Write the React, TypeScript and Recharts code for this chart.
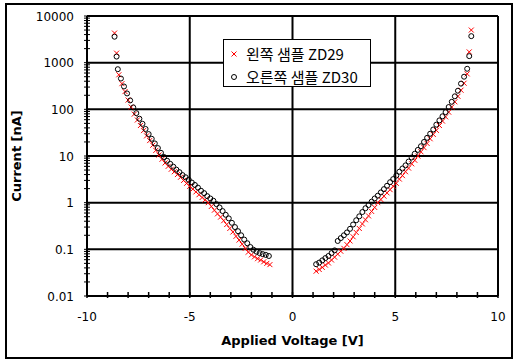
import React from "react";
import {
  ScatterChart,
  Scatter,
  XAxis,
  YAxis,
  ReferenceLine,
  Label,
} from "recharts";

// 왼쪽 샘플 ZD29 (red x)
const voltsLeft29 = [
  -8.66, -8.56, -8.45, -8.3, -8.15, -8.0, -7.85, -7.7, -7.55, -7.4, -7.25, -7.1,
  -6.95, -6.8, -6.65, -6.5, -6.35, -6.2, -6.05, -5.9, -5.75, -5.6, -5.45, -5.3,
  -5.15, -5.0, -4.85, -4.7, -4.55, -4.4, -4.25, -4.1, -3.95, -3.8, -3.65, -3.5,
  -3.35, -3.2, -3.05, -2.9, -2.75, -2.6, -2.45, -2.3, -2.15, -2.0, -1.85, -1.7,
  -1.55, -1.4, -1.25, -1.1,
];
const currLeft29 = [
  4300, 1600, 550, 355, 240, 158, 112, 79, 59, 45, 35, 27,
  21.4, 17, 13.2, 10.5, 8.5, 7.1, 6.0, 5.2, 4.6, 4.0, 3.5, 3.0,
  2.6, 2.24, 1.95, 1.7, 1.48, 1.29, 1.15, 1.0, 0.83, 0.69, 0.575, 0.49,
  0.41, 0.34, 0.28, 0.235, 0.19, 0.158, 0.129, 0.105, 0.087, 0.076, 0.069, 0.063,
  0.059, 0.054, 0.05, 0.047,
];

// 오른쪽 샘플 ZD30 (open circles)
const voltsLeft30 = [
  -8.66, -8.56, -8.5, -8.35, -8.2, -8.05, -7.9, -7.75, -7.6, -7.45, -7.3, -7.15,
  -7.0, -6.85, -6.7, -6.55, -6.4, -6.25, -6.1, -5.95, -5.8, -5.65, -5.5, -5.35,
  -5.2, -5.05, -4.9, -4.75, -4.6, -4.45, -4.3, -4.15, -4.0, -3.85, -3.7, -3.55,
  -3.4, -3.25, -3.1, -2.95, -2.8, -2.65, -2.5, -2.35, -2.2, -2.05, -1.9, -1.75,
  -1.6, -1.45, -1.3, -1.15,
];
const currLeft30 = [
  3600, 1350, 724, 457, 309, 219, 155, 110, 83, 63, 49, 38,
  29.5, 23.4, 18.6, 14.8, 11.7, 9.5, 7.9, 6.8, 5.9, 5.1, 4.5, 3.9,
  3.5, 3.1, 2.7, 2.4, 2.1, 1.8, 1.6, 1.38, 1.23, 1.1, 0.93, 0.79,
  0.66, 0.55, 0.46, 0.37, 0.3, 0.245, 0.2, 0.162, 0.135, 0.112, 0.098, 0.089,
  0.083, 0.079, 0.076, 0.072,
];

const voltsRight = [
  1.15, 1.3, 1.45, 1.6, 1.75, 1.9, 2.05, 2.2, 2.35, 2.5, 2.65, 2.8,
  2.95, 3.1, 3.25, 3.4, 3.55, 3.7, 3.85, 4.0, 4.15, 4.3, 4.45, 4.6,
  4.75, 4.9, 5.05, 5.2, 5.35, 5.5, 5.65, 5.8, 5.95, 6.1, 6.25, 6.4,
  6.55, 6.7, 6.85, 7.0, 7.15, 7.3, 7.45, 7.6, 7.75, 7.9, 8.05, 8.2,
  8.35, 8.5, 8.6, 8.7,
];
const currRight29 = [
  0.034, 0.037, 0.041, 0.046, 0.051, 0.059, 0.068, 0.079, 0.091, 0.105, 0.126, 0.151,
  0.186, 0.23, 0.28, 0.35, 0.43, 0.52, 0.65, 0.79, 1.0, 1.17, 1.38, 1.62,
  1.9, 2.24, 2.6, 3.2, 3.8, 4.6, 5.5, 6.8, 8.1, 10, 12.3, 15.1,
  18.6, 23.4, 29, 35.5, 45, 56, 69, 87, 112, 145, 190, 257,
  363, 575, 1700, 5000,
];
const currRight30 = [
  0.048, 0.052, 0.058, 0.065, 0.072, 0.083, 0.095, 0.151, 0.174, 0.2, 0.23, 0.275,
  0.34, 0.42, 0.51, 0.63, 0.76, 0.89, 1.05, 1.23, 1.41, 1.66, 1.95, 2.3,
  2.75, 3.2, 3.8, 4.6, 5.4, 6.3, 7.6, 9.3, 11.2, 13.5, 16.2, 20,
  24.5, 30, 37, 47, 58, 71, 87, 112, 145, 190, 250, 355,
  500, 740, 1380, 3700,
];

const xTicks = [-10, -9, -8, -7, -6, -5, -4, -3, -2, -1, 0, 1, 2, 3, 4, 5, 6, 7, 8, 9, 10];
const xLabeled = [-10, -5, 0, 5, 10];
const xGrid = [-5, 0, 5, 10];
const decades = [0.01, 0.1, 1, 10, 100, 1000];
const mults = [1, 2, 3, 4, 5, 6, 7, 8, 9];
const yMajor = [0.01, 0.1, 1, 10, 100, 1000, 10000];
const yGrid = [0.1, 1, 10, 100, 1000, 10000];
const yTicks = [...decades.flatMap((d) => mults.map((m) => +(d * m).toPrecision(3))), 10000];

const zip = (xs: number[], ys: number[]) => xs.map((x, i) => ({ x, y: ys[i] }));
const zd29 = [...zip(voltsLeft29, currLeft29), ...zip(voltsRight, currRight29)];
const zd30 = [...zip(voltsLeft30, currLeft30), ...zip(voltsRight, currRight30)];

const FONT = "'DejaVu Sans', sans-serif";
const KFONT = "'Noto Sans CJK KR', 'Noto Sans', sans-serif";

const Cross = ({ cx, cy }: any) => (
  <path
    d={`M${cx - 2.5},${cy - 2.5}L${cx + 2.5},${cy + 2.5}M${cx - 2.5},${cy + 2.5}L${cx + 2.5},${cy - 2.5}`}
    stroke="#ff0000"
    strokeWidth={1}
  />
);

const Ring = ({ cx, cy }: any) => (
  <circle cx={cx} cy={cy} r={2.5} fill="none" stroke="#000" strokeWidth={1} />
);

const XTick = ({ x, y, payload }: any) => (
  <g>
    <line x1={x} x2={x} y1={y - 4} y2={y + 2} stroke="#000" strokeWidth={1.5} />
    {xLabeled.includes(payload.value) && (
      <text x={x} y={y + 25} textAnchor="middle" fontSize={12} fontFamily={FONT} fill="#000">
        {payload.value}
      </text>
    )}
  </g>
);

const YTick = ({ x, y, payload }: any) => {
  const major = yMajor.some((v) => Math.abs(v - payload.value) < v * 1e-6);
  return (
    <g>
      <line x1={x - 3} x2={x + 3} y1={y} y2={y} stroke="#000" strokeWidth={1} />
      {major && (
        <text x={x - 13} y={y + 4.5} textAnchor="end" fontSize={12} fontFamily={FONT} fill="#000">
          {String(payload.value)}
        </text>
      )}
    </g>
  );
};

const legendRows = [
  { name: "왼쪽 샘플 ZD29", kind: "x" },
  { name: "오른쪽 샘플 ZD30", kind: "o" },
];

export default function App() {
  return (
    <div style={{ position: "absolute", left: 0, top: 0, width: 518, height: 363, background: "#fff" }}>
      <div
        style={{
          position: "absolute",
          left: 5,
          top: 3,
          width: 508,
          height: 356,
          border: "2px solid #000",
          boxSizing: "border-box",
        }}
      />
      <ScatterChart width={518} height={363} margin={{ top: 16, right: 20, bottom: 17, left: 0 }}>
        <XAxis
          type="number"
          dataKey="x"
          domain={[-10, 10]}
          ticks={xTicks}
          interval={0}
          tickSize={0}
          tickMargin={0}
          tick={<XTick />}
          axisLine={{ stroke: "#000", strokeWidth: 2 }}
          height={50}
          allowDataOverflow
        >
          <Label
            content={({ viewBox }: any) => (
              <text
                x={viewBox.x + viewBox.width / 2}
                y={345}
                textAnchor="middle"
                fontSize={13}
                fontWeight="bold"
                fontFamily={FONT}
                fill="#000"
              >
                Applied Voltage [V]
              </text>
            )}
          />
        </XAxis>
        <YAxis
          type="number"
          dataKey="y"
          scale="log"
          domain={[0.01, 10000]}
          ticks={yTicks}
          interval={0}
          tickSize={0}
          tickMargin={0}
          tick={<YTick />}
          axisLine={{ stroke: "#000", strokeWidth: 2 }}
          width={87}
          allowDataOverflow
        >
          <Label
            content={({ viewBox }: any) => {
              const cy = viewBox.y + viewBox.height / 2;
              return (
                <text
                  x={21}
                  y={cy}
                  transform={`rotate(-90, 21, ${cy})`}
                  textAnchor="middle"
                  fontSize={13}
                  fontWeight="bold"
                  fontFamily={FONT}
                  fill="#000"
                >
                  Current [nA]
                </text>
              );
            }}
          />
        </YAxis>
        {xGrid.map((v) => (
          <ReferenceLine key={`vx${v}`} x={v} stroke="#000" strokeWidth={2} />
        ))}
        {yGrid.map((v) => (
          <ReferenceLine key={`hy${v}`} y={v} stroke="#000" strokeWidth={2} />
        ))}
        <Scatter name="왼쪽 샘플 ZD29" data={zd29} shape={Cross} isAnimationActive={false} />
        <Scatter name="오른쪽 샘플 ZD30" data={zd30} shape={Ring} isAnimationActive={false} />
      </ScatterChart>
      <div
        style={{
          position: "absolute",
          left: 223,
          top: 39,
          width: 148,
          height: 48,
          boxSizing: "border-box",
          border: "1.5px solid #000",
          background: "#fff",
          fontFamily: KFONT,
          fontSize: 15,
          color: "#000",
        }}
      >
        {legendRows.map((r, i) => (
          <div
            key={r.name}
            style={{ position: "absolute", left: 4, top: 4 + i * 23, height: 20, display: "flex", alignItems: "center" }}
          >
            <svg width={12} height={12} style={{ marginRight: 6 }}>
              {r.kind === "x" ? <Cross cx={6} cy={6} /> : <Ring cx={6} cy={6} />}
            </svg>
            <span style={{ whiteSpace: "nowrap", lineHeight: "20px" }}>{r.name}</span>
          </div>
        ))}
      </div>
    </div>
  );
}
